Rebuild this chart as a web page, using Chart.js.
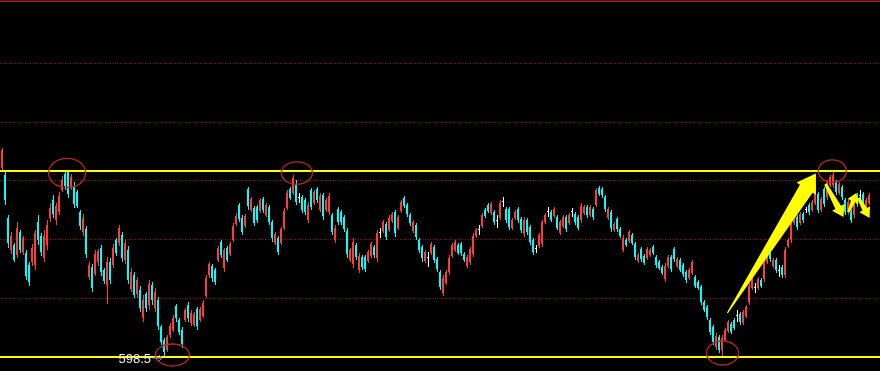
<!DOCTYPE html>
<html>
<head>
<meta charset="utf-8">
<script src="https://cdn.jsdelivr.net/npm/chart.js@4.4.1/dist/chart.umd.min.js"></script>
<style>
html,body{margin:0;padding:0;background:#000;overflow:hidden;}
#wrap{width:880px;height:371px;}
</style>
</head>
<body>
<div id="wrap"><canvas id="c" width="880" height="371"></canvas></div>
<script>
// ---------- DATA ----------
const openPrices = [
636.4,635.0,626.4,620.0,621.0,619.0,623.6,619.6,619.4,617.0,617.6,617.0,625.6,622.8,618.4,621.0,626.4,630.0,626.0,627.6,
632.0,635.2,635.6,632.4,632.8,631.6,627.6,623.6,624.2,614.6,616.6,615.2,617.6,620.4,616.0,613.0,617.6,617.0,622.0,621.4,
623.0,618.0,620.0,612.2,615.0,611.2,612.0,606.4,611.2,609.0,613.0,608.4,610.0,604.6,602.0,600.0,603.0,604.0,608.8,606.0,
604.0,606.0,609.0,605.4,605.0,608.2,606.0,606.8,610.8,615.0,616.8,616.0,618.0,621.6,616.4,620.4,619.2,622.0,625.2,629.0,
626.4,624.8,632.2,628.0,628.4,628.6,627.8,630.2,627.0,628.6,625.6,621.4,622.4,621.4,624.4,628.4,632.2,631.4,633.0,630.4,
630.6,630.0,626.0,632.0,629.4,632.2,628.0,631.0,628.0,627.6,627.0,622.0,628.2,627.6,626.6,623.8,618.0,617.2,621.0,616.0,
618.6,618.6,617.8,618.8,620.6,618.4,623.4,623.8,625.2,624.0,625.8,627.6,624.4,627.8,630.4,629.0,627.0,623.8,625.0,622.0,
620.6,617.8,618.4,619.4,620.6,618.2,615.6,611.4,613.4,615.6,618.8,620.0,621.0,621.2,619.2,616.8,617.6,619.2,622.8,624.0,
624.8,628.0,629.0,627.4,627.6,625.8,626.4,629.6,628.2,628.2,624.4,626.4,628.2,626.2,623.2,626.0,624.6,622.0,620.2,620.8,
621.2,625.6,627.6,627.6,626.8,626.6,623.4,624.8,626.6,625.4,627.6,627.2,626.6,626.0,627.4,628.6,627.0,628.2,629.0,632.4,
632.2,630.6,626.4,627.6,624.0,626.2,624.2,620.0,622.0,621.8,623.0,621.2,617.8,620.2,618.8,618.4,619.0,620.6,618.6,617.6,
616.6,614.2,616.8,618.6,620.2,616.8,618.0,617.0,615.6,614.4,615.4,614.6,613.6,612.6,609.6,608.6,606.0,604.6,600.6,602.6,
600.0,602.0,603.8,605.2,606.0,606.8,607.2,605.4,606.8,609.6,612.4,612.4,612.4,614.0,614.2,617.6,619.6,616.8,618.0,615.8,
616.6,615.0,620.8,622.0,625.4,626.6,625.4,627.2,628.0,629.0,628.0,629.4,631.2,628.0,632.2,630.6,633.0,633.0,633.6,631.4,
632.6,630.0,627.6,627.6,627.0,631.0,630.8,631.2,628.4,629.4
];
const highPrices = [
640.4,635.6,627.0,623.6,621.4,625.6,624.0,622.8,620.0,617.6,621.2,624.0,627.0,623.4,624.0,626.0,629.4,631.0,629.4,631.6,
634.8,635.8,636.0,635.2,633.6,632.0,628.0,627.2,624.8,617.6,617.2,620.0,620.2,621.0,616.4,618.6,618.4,621.2,622.4,625.0,
623.6,622.0,620.8,616.4,615.6,614.6,612.8,611.0,611.6,614.0,613.6,612.4,610.6,605.0,602.4,603.0,605.4,607.0,609.2,606.4,
604.6,608.4,609.6,608.0,607.6,608.6,608.6,610.0,615.0,617.6,617.2,616.4,620.8,622.0,620.4,620.8,621.6,625.4,627.4,629.4,
627.0,627.2,632.6,630.6,628.8,629.0,630.4,630.6,629.4,629.0,626.0,623.6,622.8,624.6,628.4,632.0,632.6,635.0,634.0,631.4,
631.0,630.4,629.6,632.4,632.0,632.6,631.4,631.4,630.4,631.4,627.4,625.0,628.6,628.0,627.0,624.4,620.4,622.4,621.4,619.4,
619.0,619.0,620.0,621.6,621.0,624.0,624.4,626.0,625.6,627.0,627.6,628.0,627.0,630.0,630.8,629.4,627.4,626.0,625.4,622.4,
621.0,620.0,619.6,621.6,621.0,618.6,616.0,615.0,616.0,619.0,621.4,622.0,621.4,621.6,619.6,619.0,620.6,623.4,624.4,625.0,
627.4,628.4,629.4,629.6,628.0,627.0,630.0,630.6,628.6,628.6,626.4,628.0,628.6,626.6,626.6,626.4,625.0,622.4,621.0,623.4,
626.0,627.4,628.6,628.0,628.6,627.0,626.0,627.0,627.0,627.4,628.4,627.6,627.0,629.4,629.0,629.0,629.0,628.6,632.4,632.8,
632.6,631.0,628.6,628.0,625.6,626.6,624.6,623.0,622.4,624.0,623.4,621.6,619.4,620.6,619.2,620.6,620.4,621.0,619.0,618.0,
617.0,617.4,619.0,619.0,620.6,618.6,618.4,617.4,616.0,616.4,618.0,615.0,614.0,613.0,610.0,609.0,606.4,605.0,603.4,603.0,
603.0,604.4,606.0,605.6,606.4,608.0,607.6,608.0,609.0,613.4,614.6,613.4,614.6,614.4,618.0,619.6,620.0,618.4,618.4,617.0,
617.0,620.6,622.4,626.4,628.0,627.0,627.6,627.6,628.6,629.4,630.0,632.0,631.6,630.6,632.6,634.0,635.0,635.6,634.0,633.6,
633.0,630.4,630.0,628.0,630.0,631.4,632.0,631.6,630.4,631.4
];
const lowPrices = [
635.8,629.0,620.4,619.2,617.6,618.4,619.4,619.0,614.0,612.8,616.8,616.0,621.0,618.8,617.6,620.0,625.6,626.4,625.0,627.0,
631.6,632.0,630.4,632.0,628.4,628.4,624.0,622.8,618.4,614.0,611.6,614.8,616.8,614.8,613.2,609.2,613.2,616.4,618.8,620.8,
617.6,617.2,613.2,611.6,610.4,610.4,607.6,605.6,607.6,608.0,609.0,607.6,604.0,601.0,598.5,599.6,602.4,603.6,605.6,603.0,
600.4,605.6,605.6,604.8,604.6,604.0,605.6,606.4,610.4,614.4,613.6,613.0,617.6,618.4,615.6,617.6,618.8,621.6,624.8,625.6,
623.0,624.4,628.0,627.6,624.8,625.4,627.4,627.4,626.6,625.0,621.6,621.0,619.0,621.0,624.0,628.0,630.0,631.0,629.0,629.4,
627.4,627.0,625.4,628.0,629.0,629.4,627.6,626.0,627.6,627.0,623.0,621.4,625.0,625.0,623.6,618.4,617.6,616.4,618.0,615.4,
616.0,615.6,617.4,618.4,618.4,617.6,622.4,623.4,622.0,623.6,625.4,622.6,624.0,627.4,628.4,626.6,624.8,623.4,622.0,619.4,
617.6,617.4,616.6,619.0,617.4,615.6,612.0,610.8,613.0,615.0,618.4,619.6,619.0,618.8,617.6,616.4,617.0,618.6,622.4,623.0,
624.4,626.4,627.4,627.0,625.0,624.4,626.0,628.6,625.4,624.0,624.0,626.0,625.4,623.4,622.6,623.0,621.0,619.0,619.4,620.4,
620.6,625.2,626.6,625.6,626.4,624.0,623.0,624.4,623.6,625.0,626.6,625.0,624.0,625.4,627.0,626.4,626.6,626.0,628.6,630.8,
630.4,627.6,626.0,623.6,623.6,623.6,622.4,619.6,620.6,621.4,621.0,618.0,617.4,617.6,617.0,618.0,618.6,619.0,616.4,616.0,
615.0,613.6,616.4,615.6,617.6,616.4,615.6,614.6,613.4,614.0,615.0,612.4,612.0,609.0,607.6,606.0,603.0,601.0,600.0,599.4,
598.5,601.6,603.4,603.2,604.0,605.6,605.0,605.0,606.4,609.0,612.0,611.4,612.0,612.4,613.6,617.2,617.6,616.4,615.4,614.6,
614.4,614.4,620.4,621.4,625.0,624.0,625.0,625.4,627.4,627.0,627.6,629.0,627.4,627.6,628.6,630.0,632.6,632.4,631.0,631.0,
630.0,627.0,627.0,625.4,626.4,628.6,629.4,628.0,628.0,629.0
];
const closePrices = [
640.0,630.0,621.4,622.8,618.0,624.4,620.0,622.4,614.8,613.6,620.4,623.4,622.0,619.6,622.8,625.0,628.4,627.2,628.8,630.8,
634.0,632.8,631.2,634.6,629.2,628.8,624.8,626.4,619.2,617.0,612.4,619.2,619.8,615.6,613.8,617.6,614.0,620.4,619.4,624.4,
618.4,621.4,614.0,615.6,611.0,614.0,608.4,610.0,608.4,613.2,610.0,611.6,604.8,601.6,599.6,602.6,604.8,606.4,606.4,603.6,
601.2,608.0,606.4,607.4,607.2,604.8,608.2,609.4,614.4,617.2,614.4,613.6,620.4,619.0,620.0,618.0,621.2,624.8,626.8,626.2,
623.6,626.8,628.8,630.2,625.4,626.0,630.0,628.0,629.0,625.6,622.4,623.2,619.6,624.2,627.8,631.4,630.4,634.4,629.6,630.4,
628.0,627.6,629.0,628.6,631.6,630.0,630.8,626.8,630.0,630.8,623.6,624.4,625.6,625.6,624.2,619.2,620.0,621.6,618.6,618.8,
616.6,616.2,619.6,621.2,619.0,623.4,623.4,625.6,622.6,626.4,627.2,623.4,626.6,629.6,628.8,627.2,625.4,625.6,622.6,620.0,
618.4,619.6,618.4,621.2,618.0,616.2,612.6,614.4,615.6,618.4,621.0,621.6,619.4,619.4,618.0,618.6,620.2,622.8,624.0,624.0,
627.0,626.8,627.8,629.2,625.6,625.8,629.4,629.6,626.0,624.6,626.0,627.6,626.0,624.0,626.0,623.6,621.6,619.6,620.2,623.0,
625.6,627.0,627.6,626.0,628.2,624.4,625.6,626.6,624.2,627.0,627.6,625.6,624.4,628.8,628.6,627.0,628.6,626.6,632.0,631.2,
631.0,628.2,628.2,624.4,625.2,624.2,622.8,622.4,621.0,623.6,621.4,618.6,619.0,618.2,617.4,620.2,620.0,619.4,617.0,616.4,
615.4,616.8,618.6,616.2,618.2,618.2,616.0,615.2,614.0,616.0,617.6,612.8,612.4,609.6,608.0,606.6,603.6,601.6,602.8,600.0,
602.4,604.0,605.6,603.6,604.4,606.8,605.6,607.6,608.6,612.8,614.2,612.4,614.2,612.8,617.4,619.2,618.2,618.0,616.0,615.8,
615.0,620.0,622.0,626.0,627.6,624.6,627.2,626.0,628.0,627.6,629.6,631.6,628.0,630.2,629.2,633.4,634.6,635.0,631.6,633.2,
630.6,627.6,629.6,626.0,629.4,629.2,630.8,628.6,630.0,631.0
];
const categories = openPrices.map((_, i) => String(i + 1));
const gridValues = [657.3, 645.5, 633.9, 622.1, 610.3];
const levelValues = [635.8, 598.5];
const lowLabel = '598.5';
const lowIndex = 54;
// annotations in (candle index, price)
const circleMarks = [
  {i: 21.7, p: 635.4, rx: 18.5, ry: 14.7},
  {i: 98.3, p: 635.4, rx: 15.5, ry: 11.2},
  {i: 56.8, p: 599.0, rx: 17, ry: 11},
  {i: 240.2, p: 599.4, rx: 16, ry: 12},
  {i: 276.8, p: 635.8, rx: 14, ry: 11.2}
];
const arrowMarks = [
  {i1: 241.8, p1: 607.4, i2: 271.3, p2: 635.3, tail: 0.6, shaft: 7.5, head: 11.5, headLen: 18},
  {i1: 274.5, p1: 633.2, i2: 280.5, p2: 626.6, tail: 1.4, shaft: 3.2, head: 7, headLen: 11},
  {i1: 282.2, p1: 627.6, i2: 284.8, p2: 631.4, tail: 1.3, shaft: 2.2, head: 6, headLen: 9},
  {i1: 285.5, p1: 630.4, i2: 289.2, p2: 626.4, tail: 1.4, shaft: 2.6, head: 6, headLen: 10}
];

// ---------- STYLE ----------
const UP = '#ff3c3c', DOWN = '#00ffff', FLAT = '#ffffff';
const candleColors = openPrices.map((o, i) => closePrices[i] > o ? UP : (closePrices[i] < o ? DOWN : FLAT));
const N = openPrices.length;

const bgPlugin = {
  id: 'bg',
  beforeDraw(chart) {
    const ctx = chart.ctx;
    ctx.save();
    ctx.fillStyle = '#000000';
    ctx.fillRect(0, 0, chart.width, chart.height);
    ctx.restore();
  },
  beforeDatasetsDraw(chart) {
    const ctx = chart.ctx, ys = chart.scales.y;
    ctx.save();
    ctx.strokeStyle = '#981c1c';
    ctx.lineWidth = 1;
    ctx.setLineDash([1, 1.5]);
    gridValues.forEach(v => {
      const y = Math.floor(ys.getPixelForValue(v)) + 0.5;
      ctx.beginPath(); ctx.moveTo(0, y); ctx.lineTo(chart.width, y); ctx.stroke();
    });
    ctx.setLineDash([]);
    ctx.strokeStyle = '#a82020';
    ctx.lineWidth = 1.5;
    ctx.beginPath(); ctx.moveTo(0, 1.3); ctx.lineTo(chart.width, 1.3); ctx.stroke();
    ctx.restore();
  }
};

function drawArrow(ctx, x1, y1, x2, y2, tailHalf, shaftHalf, headHalf, headLen) {
  const dx = x2 - x1, dy = y2 - y1, len = Math.hypot(dx, dy);
  const ux = dx / len, uy = dy / len, nx = -uy, ny = ux;
  const bx = x2 - ux * headLen, by = y2 - uy * headLen;
  ctx.beginPath();
  ctx.moveTo(x1 + nx * tailHalf, y1 + ny * tailHalf);
  ctx.lineTo(bx + nx * shaftHalf, by + ny * shaftHalf);
  ctx.lineTo(bx + nx * headHalf, by + ny * headHalf);
  ctx.lineTo(x2, y2);
  ctx.lineTo(bx - nx * headHalf, by - ny * headHalf);
  ctx.lineTo(bx - nx * shaftHalf, by - ny * shaftHalf);
  ctx.lineTo(x1 - nx * tailHalf, y1 - ny * tailHalf);
  ctx.closePath();
  ctx.fill();
}

const overlayPlugin = {
  id: 'overlay',
  afterDatasetsDraw(chart) {
    const ctx = chart.ctx, xs = chart.scales.x, ys = chart.scales.y;
    ctx.save();
    ctx.strokeStyle = '#ffff00';
    ctx.lineWidth = 2;
    levelValues.forEach(v => {
      const y = Math.round(ys.getPixelForValue(v));
      ctx.beginPath(); ctx.moveTo(0, y); ctx.lineTo(chart.width, y); ctx.stroke();
    });
    ctx.strokeStyle = '#bc2626';
    ctx.lineWidth = 1.3;
    circleMarks.forEach(c => {
      ctx.beginPath();
      ctx.ellipse(xs.getPixelForValue(c.i), ys.getPixelForValue(c.p), c.rx, c.ry, 0, 0, Math.PI * 2);
      ctx.stroke();
    });
    ctx.fillStyle = '#ffff00';
    arrowMarks.forEach(a => {
      drawArrow(ctx, xs.getPixelForValue(a.i1), ys.getPixelForValue(a.p1),
                xs.getPixelForValue(a.i2), ys.getPixelForValue(a.p2),
                a.tail, a.shaft, a.head, a.headLen);
    });
    const lx = xs.getPixelForValue(lowIndex);
    const ly = ys.getPixelForValue(lowPrices[lowIndex]);
    ctx.font = '13px "Liberation Sans", Arial, sans-serif';
    ctx.textAlign = 'right';
    ctx.textBaseline = 'alphabetic';
    ctx.fillStyle = '#eceef8';
    ctx.fillText(lowLabel, lx - 13, ly + 5);
    ctx.strokeStyle = '#8a78ff';
    ctx.lineWidth = 1;
    ctx.beginPath(); ctx.moveTo(lx - 11, ly + 0.5); ctx.lineTo(lx - 2, ly + 0.5); ctx.stroke();
    ctx.beginPath(); ctx.moveTo(lx - 5, ly - 2.5); ctx.lineTo(lx - 2, ly + 0.5); ctx.lineTo(lx - 5, ly + 3.5); ctx.stroke();
    ctx.restore();
  }
};

new Chart(document.getElementById('c'), {
  type: 'bar',
  data: {
    labels: categories,
    datasets: [
      {
        label: 'wick',
        xAxisID: 'xw',
        data: highPrices.map((h, i) => ({x: i, y: [lowPrices[i], h]})),
        backgroundColor: candleColors,
        barThickness: 1,
        grouped: false,
        inflateAmount: 0,
        borderWidth: 0,
        order: 2
      },
      {
        label: 'body',
        xAxisID: 'x',
        data: openPrices.map((o, i) => [o, closePrices[i]]),
        backgroundColor: candleColors,
        barThickness: 2,
        minBarLength: 1,
        grouped: false,
        inflateAmount: 0,
        borderWidth: 0,
        order: 1
      }
    ]
  },
  options: {
    responsive: false,
    animation: false,
    devicePixelRatio: 1,
    layout: {padding: {left: 0.5, right: 9.5, top: 0, bottom: 0}},
    plugins: {legend: {display: false}, tooltip: {enabled: false}, title: {display: false}},
    scales: {
      x: {display: false, offset: true},
      // wick axis: same spacing as x, shifted by half a pixel so 1px wicks land on whole pixels
      xw: {type: 'linear', display: false, offset: false, grid: {offset: false},
           min: -0.5 - 1 / 6, max: N - 0.5 - 1 / 6},
      y: {display: false, min: 595.8, max: 670}
    }
  },
  plugins: [bgPlugin, overlayPlugin]
});
</script>
</body>
</html>
